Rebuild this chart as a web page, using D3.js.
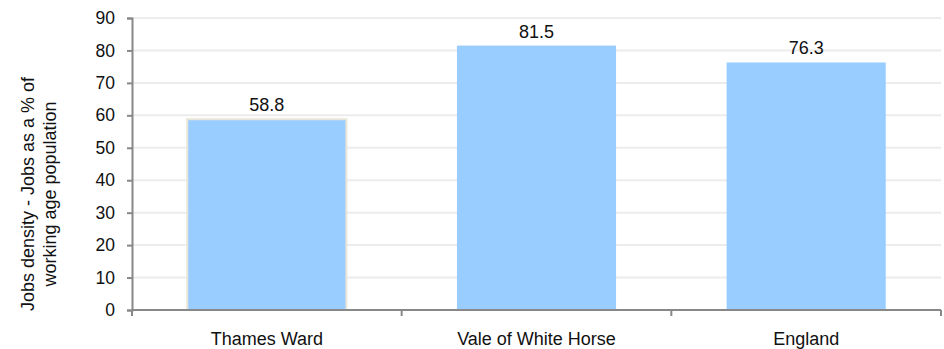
<!DOCTYPE html>
<html>
<head>
<meta charset="utf-8">
<script src="https://cdn.jsdelivr.net/npm/d3@7"></script>
<style>
  body { margin: 0; background: #fff; }
  svg { display: block; font-family: "Liberation Sans", Arial, sans-serif; }
</style>
</head>
<body>
<svg id="chart" width="944" height="349"></svg>
<script>
// chart data
const categories = ['Thames Ward', 'Vale of White Horse', 'England']
const values = [58.8, 81.5, 76.3]
const yTicks = [0, 10, 20, 30, 40, 50, 60, 70, 80, 90]
const yTitle = ['Jobs density - Jobs as a % of', 'working age population']

const margin = { left: 132, right: 3, top: 18, bottom: 39 }
const width = 944, height = 349
const svg = d3.select('#chart')

const x = d3.scaleBand()
  .domain(categories)
  .range([margin.left, width - margin.right])
  .paddingInner(0.41)
  .paddingOuter(0.205)

const y = d3.scaleLinear()
  .domain([0, 90])
  .range([height - margin.bottom, margin.top])

// gridlines
svg.append('g')
  .selectAll('line')
  .data(yTicks.filter(d => d > 0))
  .enter()
  .append('line')
  .attr('x1', margin.left)
  .attr('x2', width - margin.right)
  .attr('y1', d => y(d))
  .attr('y2', d => y(d))
  .attr('stroke', '#ececec')
  .attr('stroke-width', 2)

// bars
svg.append('g')
  .selectAll('rect')
  .data(values)
  .enter()
  .append('rect')
  .attr('x', (d, i) => x(categories[i]))
  .attr('y', d => y(d))
  .attr('width', x.bandwidth())
  .attr('height', d => y(0) - y(d))
  .attr('fill', '#99ccff')
  .attr('stroke', (d, i) => i === 0 ? '#e8e6d8' : 'none')
  .attr('stroke-width', 2)

// value labels
svg.append('g')
  .selectAll('text')
  .data(values)
  .enter()
  .append('text')
  .attr('x', (d, i) => x(categories[i]) + x.bandwidth() / 2)
  .attr('y', d => y(d) - 8)
  .attr('text-anchor', 'middle')
  .attr('font-size', 18)
  .attr('fill', '#111')
  .text(d => d.toFixed(1))

// y axis
const yAxis = svg.append('g')
  .attr('transform', `translate(${margin.left},0)`)
  .call(d3.axisLeft(y).tickValues(yTicks).tickSize(5).tickPadding(12))
yAxis.selectAll('path, line').attr('stroke', '#888').attr('stroke-width', 2)
yAxis.selectAll('text').attr('font-size', 17.5).attr('fill', '#111')
  .style('font-family', '"Liberation Sans", Arial, sans-serif')

// x axis, ticks at category boundaries
const boundaries = categories.map(c => x(c) - x.step() * x.paddingInner() / 2)
boundaries.push(width - margin.right)
const xAxis = svg.append('g')
  .attr('transform', `translate(0,${y(0)})`)
xAxis.append('line')
  .attr('x1', margin.left)
  .attr('x2', width - margin.right)
  .attr('stroke', '#888')
  .attr('stroke-width', 2)
xAxis.selectAll('line.tick')
  .data(boundaries)
  .enter()
  .append('line')
  .attr('class', 'tick')
  .attr('x1', d => d)
  .attr('x2', d => d)
  .attr('y1', 0)
  .attr('y2', 6)
  .attr('stroke', '#888')
  .attr('stroke-width', 2)
xAxis.selectAll('text')
  .data(categories)
  .enter()
  .append('text')
  .attr('x', d => x(d) + x.bandwidth() / 2)
  .attr('y', 35)
  .attr('text-anchor', 'middle')
  .attr('font-size', 18)
  .attr('fill', '#111')
  .text(d => d)

// y title
svg.append('text')
  .attr('transform', `translate(34,${(y(0) + y(90)) / 2 + 30}) rotate(-90)`)
  .attr('text-anchor', 'middle')
  .attr('font-size', 18)
  .attr('fill', '#111')
  .selectAll('tspan')
  .data(yTitle)
  .enter()
  .append('tspan')
  .attr('x', 0)
  .attr('dy', (d, i) => i === 0 ? 0 : 22)
  .text(d => d)
</script>
</body>
</html>
